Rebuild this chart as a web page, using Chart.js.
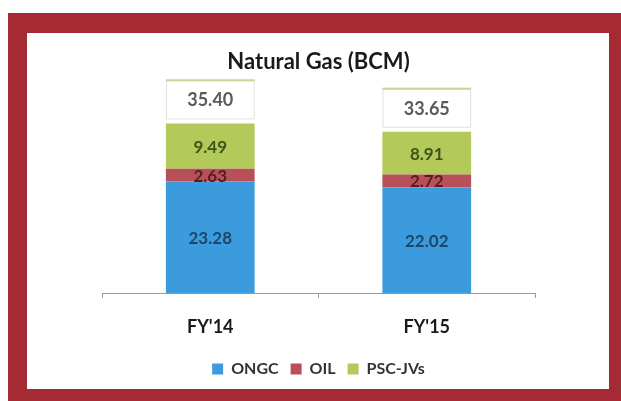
<!DOCTYPE html>
<html>
<head>
<meta charset="utf-8">
<script src="https://cdn.jsdelivr.net/npm/chart.js@4/dist/chart.umd.min.js"></script>
<style>
  html, body { margin: 0; padding: 0; background: #ffffff; }
  body { width: 621px; height: 401px; position: relative; overflow: hidden; }
  #frame { position: absolute; left: 8px; top: 13px; width: 613px; height: 388px; background: #a52a33; }
  #panel { position: absolute; left: 19px; top: 20px; width: 582px; height: 356px; background: #ffffff; }
  canvas { display: block; }
</style>
</head>
<body>
<div id="frame"><div id="panel"><canvas id="gas" width="582" height="356"></canvas></div></div>
<script>
// Natural gas production by producer, billion cubic metres
const years = ["FY'14", "FY'15"];
const ongc = [23.28, 22.02];
const oil = [2.63, 2.72];
const pscJvs = [9.49, 8.91];

const seriesNames = ["ONGC", "OIL", "PSC-JVs"];
const seriesColors = ["#3c9bdc", "#b8505a", "#b3c95a"];
const labelColors = ["#1d4766", "#5a1a22", "#3f5418"];

const FONT = "Lato, 'Open Sans', sans-serif";

// Values printed inside each segment and a boxed total above each stack
const valueLabels = {
  id: 'valueLabels',
  afterDatasetsDraw(chart) {
    const ctx = chart.ctx;
    const y = chart.scales.y;
    ctx.save();
    ctx.textAlign = 'center';
    ctx.textBaseline = 'middle';
    chart.data.datasets.forEach((ds, di) => {
      const meta = chart.getDatasetMeta(di);
      meta.data.forEach((bar, i) => {
        const v = ds.data[i];
        const mid = (bar.y + bar.base) / 2;
        ctx.font = 'bold 17px ' + FONT;
        ctx.fillStyle = labelColors[di];
        ctx.fillText(v.toFixed(2), bar.x, mid + 1);
      });
    });
    const top = chart.getDatasetMeta(chart.data.datasets.length - 1).data;
    years.forEach((_, i) => {
      const total = ongc[i] + oil[i] + pscJvs[i];
      const bar = top[i];
      const w = bar.width;
      const bottom = y.getPixelForValue(total) - 4;
      const h = 40;
      ctx.fillStyle = '#ffffff';
      ctx.fillRect(bar.x - w / 2, bottom - h, w, h);
      ctx.strokeStyle = '#dfe4d6';
      ctx.lineWidth = 1;
      ctx.strokeRect(bar.x - w / 2 + 0.5, bottom - h + 0.5, w - 1, h - 1);
      ctx.fillStyle = '#c9d89a';
      ctx.fillRect(bar.x - w / 2, bottom - h, w, 2);
      ctx.font = 'bold 18px ' + FONT;
      ctx.fillStyle = '#5a5a5a';
      ctx.fillText(total.toFixed(2), bar.x, bottom - h / 2 + 1);
    });
    ctx.restore();
  }
};

new Chart(document.getElementById('gas'), {
  type: 'bar',
  data: {
    labels: years,
    datasets: [ongc, oil, pscJvs].map((d, k) => ({
      label: seriesNames[k],
      data: d,
      backgroundColor: seriesColors[k],
      borderWidth: 0,
      categoryPercentage: 1,
      barPercentage: 0.41
    }))
  },
  options: {
    responsive: false,
    animation: false,
    layout: { padding: { left: 75, right: 74, top: 4, bottom: 2 } },
    plugins: {
      title: {
        display: true,
        text: 'Natural Gas (BCM)',
        color: '#1a1a1a',
        font: { family: FONT, size: 22, weight: 'bold' },
        padding: { top: 12, bottom: 2 }
      },
      legend: {
        position: 'bottom',
        labels: {
          color: '#333333',
          font: { family: FONT, size: 16, weight: 'bold' },
          boxWidth: 11,
          boxHeight: 11,
          padding: 12
        }
      },
      tooltip: { enabled: false }
    },
    scales: {
      x: {
        stacked: true,
        grid: { display: true, drawOnChartArea: false, offset: true, tickLength: 5, color: '#9a9a9a' },
        border: { color: '#9a9a9a' },
        ticks: { color: '#1a1a1a', font: { family: FONT, size: 18, weight: 'bold' }, padding: 18 },
        afterFit(scale) { scale.height = 56; }
      },
      y: {
        stacked: true,
        display: false,
        min: 0,
        max: 45
      }
    }
  },
  plugins: [valueLabels]
});
</script>
</body>
</html>
